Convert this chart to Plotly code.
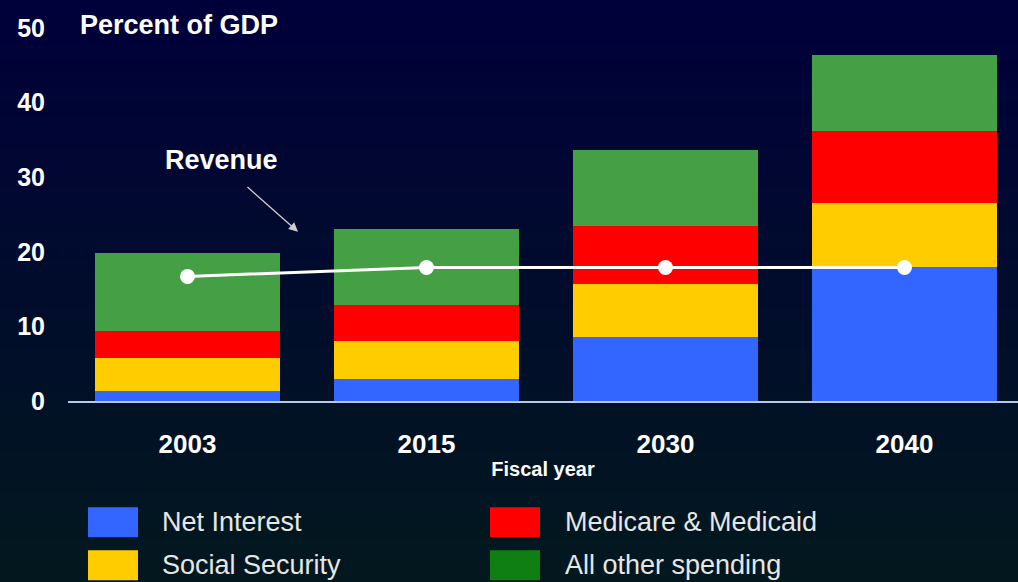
import plotly.graph_objects as go

# ---- data ----
years = ["2003", "2015", "2030", "2040"]
net_interest = [1.4, 3.0, 8.6, 17.9]
social_security = [4.3, 5.1, 7.1, 8.7]
medicare_medicaid = [3.7, 4.8, 7.8, 9.6]
all_other = [10.5, 10.2, 10.1, 10.2]
revenue = [16.7, 17.9, 17.9, 17.9]
series_names = ["Net Interest", "Social Security", "Medicare & Medicaid", "All other spending"]
y_ticks = [0, 10, 20, 30, 40, 50]

# ---- style ----
colors = ["#3366ff", "#ffcc00", "#ff0000", "#45a045"]
legend_colors = ["#3366ff", "#ffcc00", "#ff0000", "#0f7f14"]
W, H = 1018, 582
L, T, R, B = 68, 28, 0, 180.5
plot_w = W - L - R
plot_h = H - T - B
FONT = "Liberation Sans, Arial, sans-serif"


def px_x(px):
    return (px - L) / plot_w


def px_y(py):
    return (H - B - py) / plot_h


fig = go.Figure()
for name, vals, col in zip(series_names, [net_interest, social_security, medicare_medicaid, all_other], colors):
    fig.add_trace(go.Bar(x=years, y=vals, name=name, marker=dict(color=col, line=dict(width=0)),
                         width=0.775, showlegend=False))

fig.add_trace(go.Scatter(x=years, y=revenue, mode="lines+markers", name="Revenue",
                         line=dict(color="white", width=3),
                         marker=dict(color="white", size=15), showlegend=False))

# background gradient bands (decoration)
shapes = []
top = (0, 0, 58)
bot = (2, 24, 30)
n = 40
for i in range(n):
    t = i / (n - 1)
    c = tuple(round(top[k] + (bot[k] - top[k]) * t) for k in range(3))
    y0 = i * H / n
    y1 = (i + 1) * H / n + 1
    shapes.append(dict(type="rect", xref="paper", yref="paper", layer="below",
                       x0=px_x(0), x1=px_x(W), y0=px_y(y1), y1=px_y(y0),
                       fillcolor="rgb(%d,%d,%d)" % c, line=dict(width=0)))

annotations = []
# custom legend
leg_pos = [(88, 160, 523), (88, 160, 566), (490, 563, 523), (490, 563, 566)]
for (sx, tx, cy), name, col in zip(leg_pos, series_names, legend_colors):
    shapes.append(dict(type="rect", xref="paper", yref="paper",
                       x0=px_x(sx), x1=px_x(sx + 50), y0=px_y(cy + 15), y1=px_y(cy - 15),
                       fillcolor=col, line=dict(width=0)))
    annotations.append(dict(xref="paper", yref="paper", x=px_x(tx), y=px_y(cy),
                            xanchor="left", yanchor="middle", showarrow=False, text=name,
                            font=dict(family=FONT, size=27, color="#e6e6e6")))

annotations.append(dict(xref="paper", yref="paper", x=px_x(78), y=px_y(25), xanchor="left",
                        yanchor="middle", showarrow=False, text="Percent of GDP",
                        font=dict(family=FONT, size=27, color="white", weight="bold")))
annotations.append(dict(xref="paper", yref="paper", x=px_x(221), y=px_y(160), xanchor="center",
                        yanchor="middle", showarrow=False, text="Revenue",
                        font=dict(family=FONT, size=27, color="white", weight="bold")))
annotations.append(dict(xref="paper", yref="paper", x=px_x(298), y=px_y(232), text="",
                        showarrow=True, ax=-52, ay=-46, arrowcolor="#d0d0d0", arrowwidth=1.3,
                        arrowhead=2, arrowsize=1.4))

fig.update_layout(
    width=W, height=H,
    margin=dict(l=L, r=R, t=T, b=B, pad=0),
    paper_bgcolor="#020a2e", plot_bgcolor="rgba(0,0,0,0)",
    barmode="stack", bargap=0.2,
    shapes=shapes, annotations=annotations,
    showlegend=False,
    xaxis=dict(range=[-0.5, 3.475], showgrid=False, zeroline=False,
               showline=True, linecolor="#b8c8e8", linewidth=2,
               ticks="", ticklabelstandoff=19,
               tickfont=dict(family=FONT, size=26, color="white", weight="bold"),
               title=dict(text="Fiscal year", standoff=4,
                          font=dict(family=FONT, size=20, color="white", weight="bold"))),
    yaxis=dict(range=[0, 50], tickvals=y_ticks, showgrid=False, zeroline=False, showline=False,
               ticks="outside", ticklen=17, tickcolor="rgba(0,0,0,0)",
               tickfont=dict(family=FONT, size=25, color="white", weight="bold")),
)

fig.write_html("out.html", config={"displayModeBar": False},
               post_script="document.body.style.margin='0';document.body.style.overflow='hidden';")
